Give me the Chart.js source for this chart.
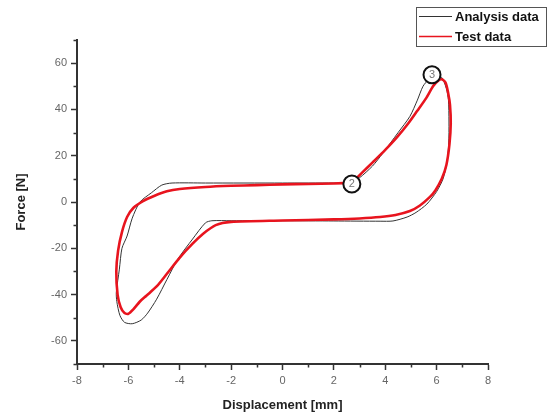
<!DOCTYPE html>
<html>
<head>
<meta charset="utf-8">
<script src="https://cdn.jsdelivr.net/npm/chart.js@4/dist/chart.umd.min.js"></script>
<style>
  html, body { margin: 0; padding: 0; background: #fff; }
  #wrap { width: 553px; height: 416px; position: relative; }
</style>
</head>
<body>
<div id="wrap"><canvas id="c" width="553" height="416"></canvas></div>
<script>
// ---- Data ----
const seriesNames = ['Analysis data', 'Test data'];

const analysisX = [2.6, 3.0, 3.5, 3.9, 4.5, 4.96, 5.25, 5.47, 5.7, 5.95, 6.2, 6.38, 6.46, 6.48, 6.47, 6.4, 6.25, 6.0, 5.62, 5.2, 4.85, 4.3, 3.8, 2.0, 0.0, -2.0, -2.75, -3.0, -3.5, -4.07, -4.5, -4.9, -5.25, -5.5, -5.85, -6.15, -6.33, -6.45, -6.47, -6.35, -6.25, -6.05, -5.85, -5.55, -5.1, -4.7, -4.3, -3.0, 0.0, 2.0, 2.6];
const analysisY = [8.2, 10.5, 15.5, 21, 30, 37, 44, 50, 53, 54.5, 53.8, 49, 44, 35, 25, 17, 10, 4.5, -0.9, -4.5, -6.5, -8.2, -8.3, -8.2, -8.1, -8.1, -8.1, -9, -16, -24.6, -33.5, -42, -48, -51, -52.6, -52, -49, -43, -39, -29, -20, -14.7, -7, 0, 4, 7.3, 8.2, 8.2, 8.2, 8.2, 8.2];

const testX = [2.7, 3.13, 3.5, 4.0, 4.46, 4.9, 5.24, 5.6, 5.86, 6.05, 6.2, 6.35, 6.45, 6.52, 6.55, 6.5, 6.38, 6.2, 5.95, 5.74, 5.35, 4.96, 4.4, 3.8, 3.0, 2.0, 0.0, -2.0, -2.6, -3.1, -3.5, -4.0, -4.5, -4.9, -5.3, -5.55, -5.8, -6.0, -6.15, -6.3, -6.42, -6.47, -6.4, -6.25, -6.05, -5.8, -5.43, -5.0, -4.5, -4.0, -3.0, -2.0, -1.0, 0.0, 1.0, 2.0, 2.7];
const testY = [8.3, 13, 17, 22.5, 28, 34, 39.3, 45, 50, 52.3, 53, 51.5, 47, 42, 34, 25, 16, 10, 5, 2.2, -1.5, -3.9, -5.6, -6.5, -7.1, -7.5, -8.0, -8.6, -10, -13.8, -18, -24, -31, -36.5, -40.5, -43, -46.3, -48.3, -48, -45.5, -40, -30, -21, -13, -6.5, -2.5, 0.4, 2.6, 4.6, 5.6, 6.5, 7.0, 7.3, 7.6, 7.8, 8.0, 8.3];

const markerLabels = ['2', '3'];
const markerX = [2.7, 5.82];
const markerY = [7.8, 55];

const xMajorTicks = [-8, -6, -4, -2, 0, 2, 4, 6, 8];
const xMinorTicks = [-7, -5, -3, -1, 1, 3, 5, 7];
const yMajorTicks = [-60, -40, -20, 0, 20, 40, 60];
const yMinorTicks = [-70, -50, -30, -10, 10, 30, 50, 70];

const xTitle = 'Displacement [mm]';
const yTitle = 'Force [N]';

// ---- Build datasets ----
function pts(xs, ys) { return xs.map((x, i) => ({ x: x, y: ys[i] })); }

const FONT = "'Liberation Sans', Arial, sans-serif";

const minorTickPlugin = {
  id: 'minorTicks',
  afterDraw(chart) {
    const ctx = chart.ctx;
    const xs = chart.scales.x, ys = chart.scales.y;
    ctx.save();
    ctx.strokeStyle = '#333';
    ctx.lineWidth = 1.5;
    ctx.beginPath();
    xMinorTicks.forEach(v => {
      const px = Math.round(xs.getPixelForValue(v)) + 0.5;
      ctx.moveTo(px, xs.top); ctx.lineTo(px, xs.top + 3.5);
    });
    yMinorTicks.forEach(v => {
      const py = Math.round(ys.getPixelForValue(v)) + 0.5;
      ctx.moveTo(ys.right, py); ctx.lineTo(ys.right - 3.5, py);
    });
    ctx.stroke();
    ctx.restore();
  }
};

const markerPlugin = {
  id: 'markers',
  afterDatasetsDraw(chart) {
    const ctx = chart.ctx;
    const xs = chart.scales.x, ys = chart.scales.y;
    ctx.save();
    markerLabels.forEach((lab, i) => {
      const px = xs.getPixelForValue(markerX[i]);
      const py = ys.getPixelForValue(markerY[i]);
      ctx.beginPath();
      ctx.arc(px, py, 8.5, 0, Math.PI * 2);
      ctx.fillStyle = '#fff';
      ctx.fill();
      ctx.lineWidth = 2;
      ctx.strokeStyle = '#111';
      ctx.stroke();
      ctx.fillStyle = '#777';
      ctx.font = '11px ' + FONT;
      ctx.textAlign = 'center';
      ctx.textBaseline = 'middle';
      ctx.fillText(lab, px, py + 0.5);
    });
    ctx.restore();
  }
};

const legendPlugin = {
  id: 'boxLegend',
  afterDraw(chart) {
    const ctx = chart.ctx;
    ctx.save();
    const bx = 416.5, by = 7.5, bw = 130, bh = 39;
    ctx.strokeStyle = '#555';
    ctx.lineWidth = 1;
    ctx.strokeRect(bx, by, bw, bh);
    const rows = [16.5, 36.5];
    chart.data.datasets.forEach((ds, i) => {
      ctx.beginPath();
      ctx.strokeStyle = ds.borderColor;
      ctx.lineWidth = i === 0 ? 1 : 1.5;
      ctx.moveTo(419, rows[i]); ctx.lineTo(452, rows[i]);
      ctx.stroke();
      ctx.fillStyle = '#111';
      ctx.font = 'bold 13px ' + FONT;
      ctx.textAlign = 'left';
      ctx.textBaseline = 'middle';
      ctx.fillText(ds.label, 455, rows[i] + 0.5);
    });
    ctx.restore();
  }
};

new Chart(document.getElementById('c'), {
  type: 'scatter',
  data: {
    datasets: [
      {
        label: seriesNames[0],
        data: pts(analysisX, analysisY),
        showLine: true,
        borderColor: '#333333',
        borderWidth: 1,
        pointRadius: 0,
        tension: 0.25,
        fill: false,
        order: 1
      },
      {
        label: seriesNames[1],
        data: pts(testX, testY),
        showLine: true,
        borderColor: '#e8141e',
        borderWidth: 2.6,
        pointRadius: 0,
        tension: 0.25,
        fill: false,
        order: 0
      }
    ]
  },
  options: {
    responsive: false,
    animation: false,
    layout: { padding: { top: 40, right: 65, left: 0, bottom: 0 } },
    plugins: {
      legend: { display: false },
      tooltip: { enabled: false }
    },
    scales: {
      x: {
        type: 'linear',
        min: -8, max: 8,
        afterFit(scale) { scale.height = 52; },
        afterBuildTicks(scale) { scale.ticks = xMajorTicks.map(v => ({ value: v })); },
        border: { display: true, color: '#333', width: 2 },
        grid: { display: true, drawOnChartArea: false, drawTicks: true, tickLength: 6, tickWidth: 1.5, tickColor: '#333' },
        ticks: {
          color: '#666', font: { family: FONT, size: 11 }, padding: 4,
          maxRotation: 0, autoSkip: false,
          callback: v => String(v)
        },
        title: {
          display: true, text: xTitle, color: '#222',
          font: { family: FONT, size: 13, weight: 'bold' },
          padding: { top: 0, bottom: 3 }
        }
      },
      y: {
        type: 'linear',
        min: -70, max: 70,
        afterFit(scale) { scale.width = 77; },
        afterBuildTicks(scale) { scale.ticks = yMajorTicks.map(v => ({ value: v })); },
        border: { display: true, color: '#333', width: 2 },
        grid: { display: true, drawOnChartArea: false, drawTicks: true, tickLength: 6, tickWidth: 1.5, tickColor: '#333' },
        ticks: {
          color: '#666', font: { family: FONT, size: 11 }, padding: 4,
          autoSkip: false,
          callback: v => String(v)
        },
        title: {
          display: true, text: yTitle, color: '#222',
          font: { family: FONT, size: 13, weight: 'bold' },
          padding: { top: 14, bottom: 0 }
        }
      }
    }
  },
  plugins: [minorTickPlugin, markerPlugin, legendPlugin]
});
</script>
</body>
</html>
